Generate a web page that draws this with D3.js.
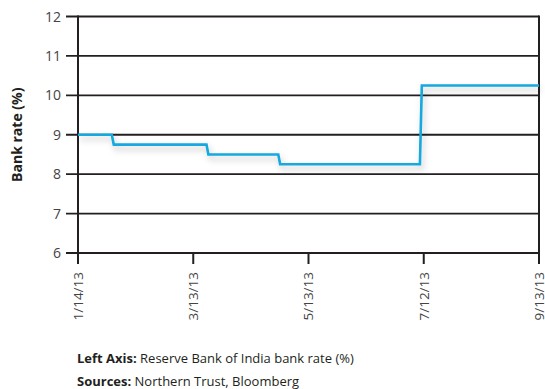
<!DOCTYPE html>
<html><head><meta charset="utf-8">
<script src="https://cdn.jsdelivr.net/npm/d3@7"></script>
<style>
body{margin:0;background:#fff;}
svg{display:block;font-family:"Open Sans","Noto Sans",sans-serif;}
</style></head>
<body><svg id="c" width="545" height="389"></svg>
<script>
const tickDates = ["2013-01-14","2013-03-13","2013-05-13","2013-07-12","2013-09-13"];
const tickLabels = ["1/14/13","3/13/13","5/13/13","7/12/13","9/13/13"];
const yTicks = [6,7,8,9,10,11,12];
const rateDates = ["2013-01-14","2013-01-31","2013-02-01","2013-03-20","2013-03-21","2013-04-27","2013-04-28","2013-07-10","2013-07-11","2013-09-13"];
const rateValues = [9,9,8.75,8.75,8.5,8.5,8.25,8.25,10.25,10.25];

const parse = d3.timeParse("%Y-%m-%d");
const svg = d3.select("#c");
const L = 78, R = 539, T = 16.5, B = 253;

const tD = tickDates.map(parse);
const x = d3.scaleTime()
  .domain(tD)
  .range(tD.map((d,i)=> L + (R-L)*i/(tD.length-1)));
const y = d3.scaleLinear().domain([6,12]).range([B,T]);

const defs = svg.append("defs");
const f = defs.append("filter").attr("id","sh").attr("x","-10%").attr("y","-50%").attr("width","130%").attr("height","250%");
f.append("feDropShadow").attr("dx",2).attr("dy",4).attr("stdDeviation",3).attr("flood-color","#000").attr("flood-opacity",0.22);

const ink = "#231f20";
svg.append("g").selectAll("line").data(yTicks).join("line")
  .attr("x1", 66).attr("x2", R)
  .attr("y1", d=>y(d)).attr("y2", d=>y(d))
  .attr("stroke", ink).attr("stroke-width", 1.8);

svg.append("g").selectAll("text").data(yTicks).join("text")
  .attr("x", 61).attr("y", d=>y(d)).attr("dy","0.36em")
  .attr("text-anchor","end").attr("font-size",14).attr("fill","#444")
  .text(d=>d);

svg.append("line").attr("x1",L).attr("x2",L).attr("y1",T-1).attr("y2",264).attr("stroke",ink).attr("stroke-width",2);
svg.append("line").attr("x1",R).attr("x2",R).attr("y1",T-1).attr("y2",264).attr("stroke",ink).attr("stroke-width",2);

svg.append("g").selectAll("line").data(tD).join("line")
  .attr("x1", d=>x(d)).attr("x2", d=>x(d)).attr("y1", B).attr("y2", 264)
  .attr("stroke", ink).attr("stroke-width", 2);

svg.append("g").selectAll("text").data(tD).join("text")
  .attr("transform", d=>`translate(${x(d)},272) rotate(-90)`)
  .attr("text-anchor","end").attr("dy","0.36em")
  .attr("font-size",13.5).attr("fill","#444")
  .text((d,i)=>tickLabels[i]);

const pts = rateDates.map((d,i)=>({date:parse(d), v:rateValues[i]}));
svg.append("path").datum(pts)
  .attr("d", d3.line().x(d=>x(d.date)).y(d=>y(d.v)))
  .attr("fill","none").attr("stroke","#12a8df").attr("stroke-width",2.6)
  .attr("filter","url(#sh)");

svg.append("text").attr("transform",`translate(17,${(T+B)/2}) rotate(-90)`)
  .attr("text-anchor","middle").attr("dy","0.36em")
  .attr("font-size",14).attr("font-weight","bold").attr("fill","#231f20")
  .text("Bank rate (%)");

const f1 = svg.append("text").attr("x",77).attr("y",363).attr("font-size",13).attr("fill","#231f20");
f1.append("tspan").attr("font-weight","bold").text("Left Axis:");
f1.append("tspan").text(" Reserve Bank of India bank rate (%)");
const f2 = svg.append("text").attr("x",77).attr("y",386).attr("font-size",13).attr("fill","#231f20");
f2.append("tspan").attr("font-weight","bold").text("Sources:");
f2.append("tspan").text(" Northern Trust, Bloomberg");
</script></body></html>
